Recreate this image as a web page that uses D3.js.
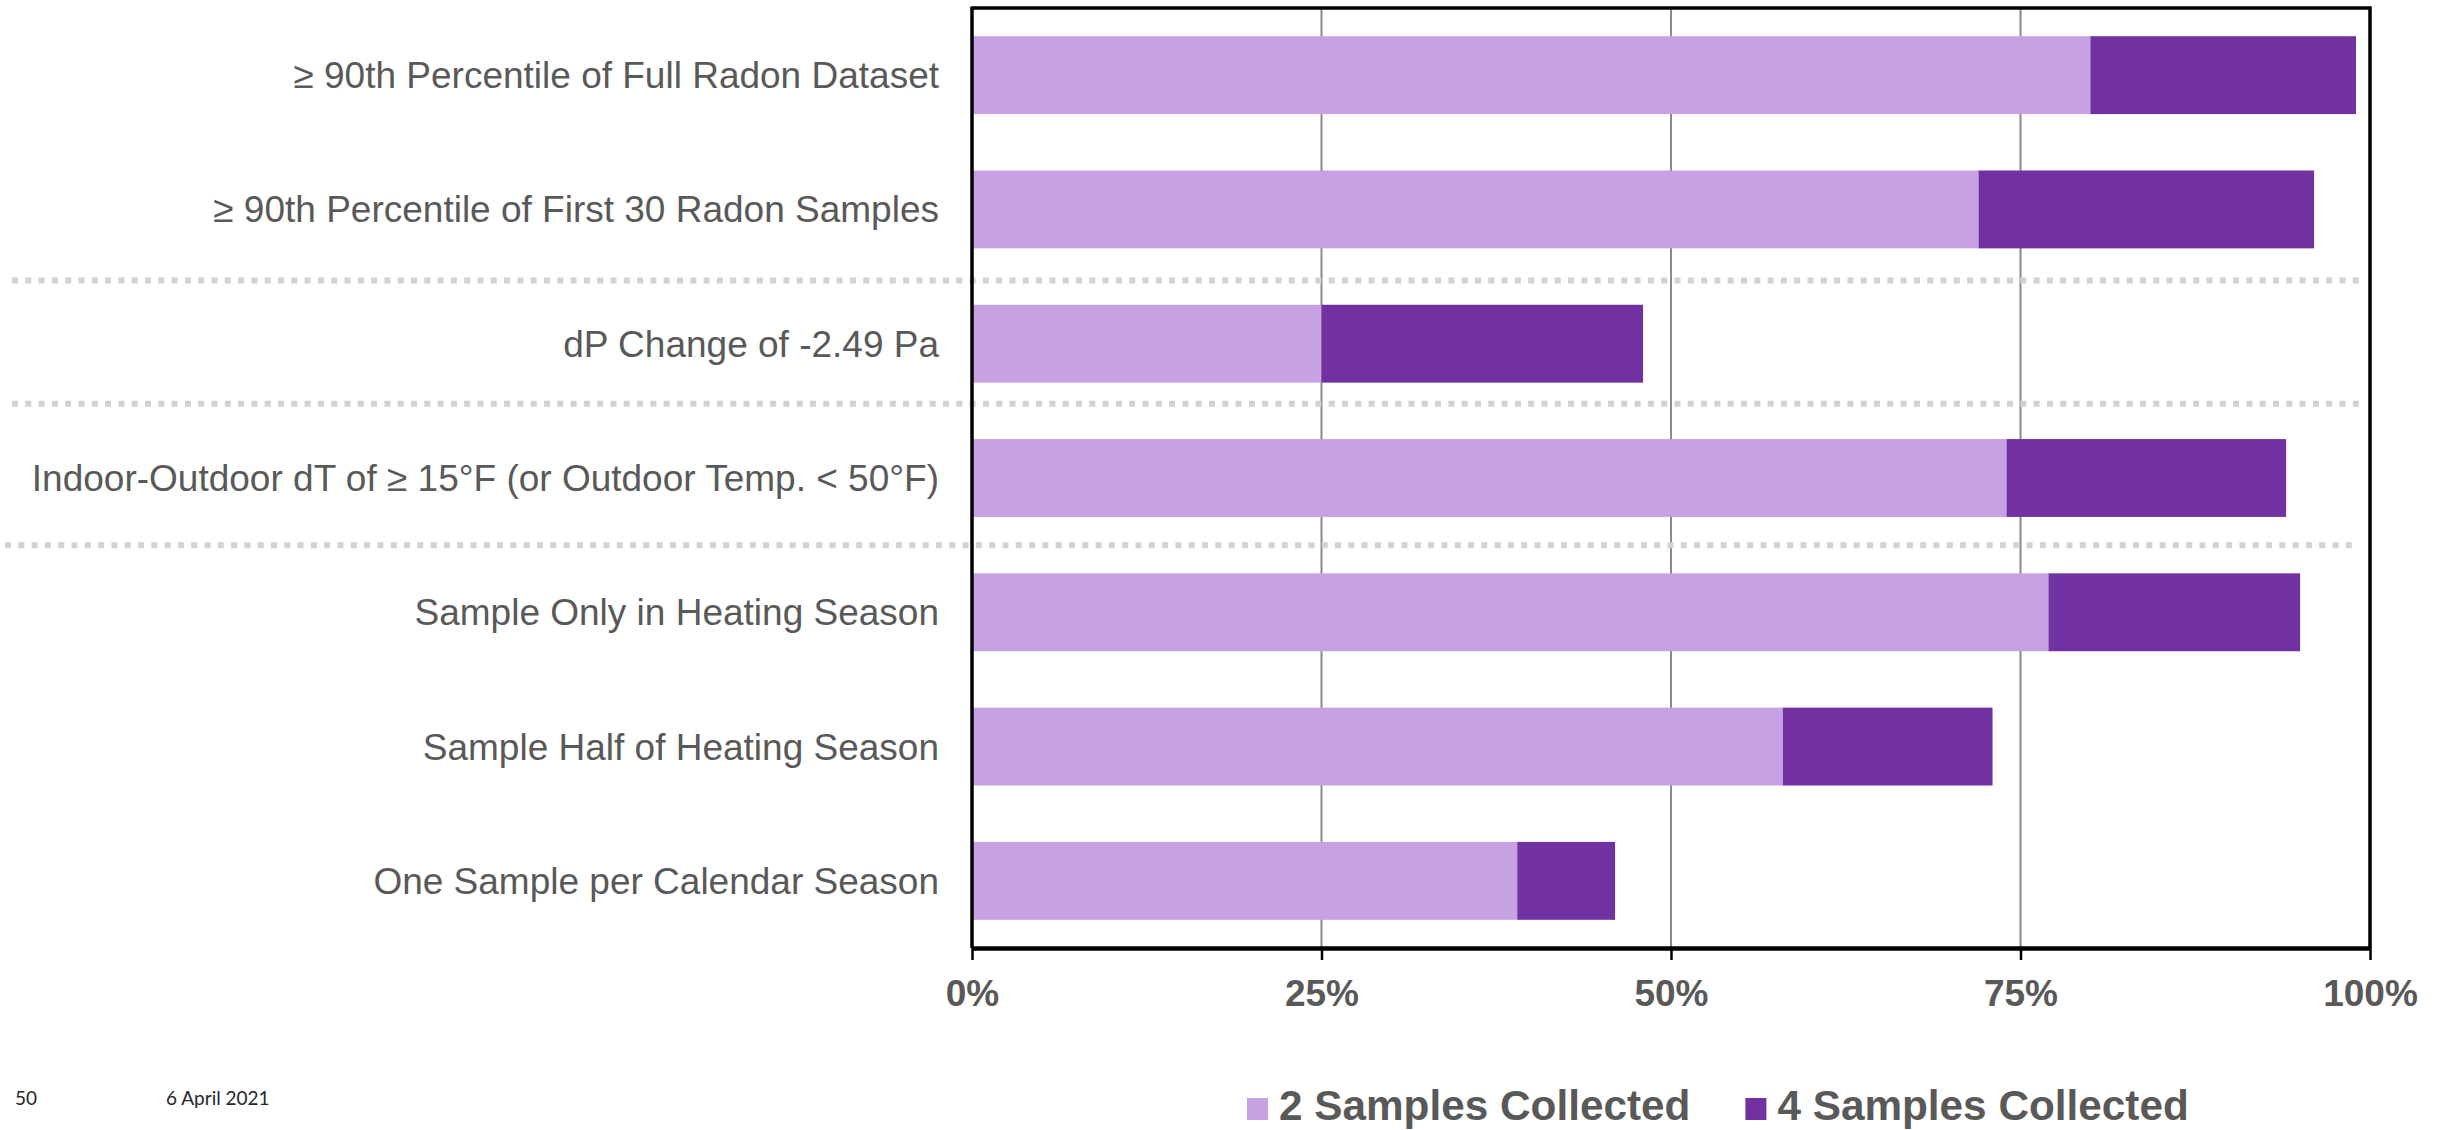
<!DOCTYPE html>
<html>
<head>
<meta charset="utf-8">
<script src="https://cdn.jsdelivr.net/npm/d3@7"></script>
<style>
  html, body { margin: 0; padding: 0; background: #ffffff; }
  svg { display: block; }
</style>
</head>
<body>
<svg id="chart" width="2443" height="1130"></svg>
<script>
// Criteria for triggering a follow-up radon sample (top to bottom)
const categories = [
  "≥ 90th Percentile of Full Radon Dataset",
  "≥ 90th Percentile of First 30 Radon Samples",
  "dP Change of -2.49 Pa",
  "Indoor-Outdoor dT of ≥ 15°F (or Outdoor Temp. < 50°F)",
  "Sample Only in Heating Season",
  "Sample Half of Heating Season",
  "One Sample per Calendar Season"
];

// Share of homes identified (%), stacked: 2 samples, then the extra from 4 samples
const twoSamples  = [80, 72, 25, 74, 77, 58, 39];
const fourSamples = [19, 24, 23, 20, 18, 15, 7];

const seriesNames = ["2 Samples Collected", "4 Samples Collected"];
const tickValues  = [0, 25, 50, 75, 100];
const tickLabels  = ["0%", "25%", "50%", "75%", "100%"];

// Criteria groups are divided by dotted rules after these rows
const separatorsAfter = [1, 2, 3];

const footerPage = "50";
const footerDate = "6 April 2021";

// ---- layout ----
const colors = ["#c8a1e2", "#7131a0"];
const textGray = "#595959";
const plot = { left: 972, right: 2370, top: 8, bottom: 948 };

const svg = d3.select("#chart");

const x = d3.scaleLinear().domain([0, 100]).range([plot.left, plot.right]);
const y = d3.scaleBand().domain(categories)
  .range([plot.top, plot.bottom])
  .paddingInner(0.42).paddingOuter(0.21);

const rows = categories.map((c, i) => ({ cat: c, two: twoSamples[i], four: fourSamples[i] }));
const stacked = d3.stack().keys(["two", "four"])(rows);

// vertical gridlines
svg.append("g")
  .selectAll("line")
  .data(tickValues.filter(v => v > 0 && v < 100))
  .join("line")
  .attr("x1", d => x(d)).attr("x2", d => x(d))
  .attr("y1", plot.top).attr("y2", plot.bottom)
  .attr("stroke", "#8a8a8a")
  .attr("stroke-width", 2);

// stacked bars
svg.append("g")
  .selectAll("g")
  .data(stacked)
  .join("g")
  .attr("fill", (d, i) => colors[i])
  .selectAll("rect")
  .data(d => d)
  .join("rect")
  .attr("x", d => x(d[0]))
  .attr("width", d => x(d[1]) - x(d[0]))
  .attr("y", d => y(d.data.cat))
  .attr("height", y.bandwidth());

// dotted group separators spanning labels and plot
const sepNudge = [4, -7, 0];
const sepExtent = [[12, 2366], [12, 2366], [5, 2358]];
svg.append("g")
  .selectAll("line")
  .data(separatorsAfter)
  .join("line")
  .attr("x1", (d, i) => sepExtent[i][0])
  .attr("x2", (d, i) => sepExtent[i][1])
  .attr("y1", (d, i) => (y(categories[d]) + y.bandwidth() + y(categories[d + 1])) / 2 + sepNudge[i])
  .attr("y2", (d, i) => (y(categories[d]) + y.bandwidth() + y(categories[d + 1])) / 2 + sepNudge[i])
  .attr("stroke", "#d2d2d2")
  .attr("stroke-width", 6)
  .attr("stroke-dasharray", "6 7.3");

// plot frame (top and right)
svg.append("path")
  .attr("d", `M${plot.left},${plot.top}H${plot.right}V${plot.bottom}`)
  .attr("fill", "none")
  .attr("stroke", "#000")
  .attr("stroke-width", 3.5);

// category axis (left)
const yAxis = svg.append("g")
  .attr("transform", `translate(${plot.left},0)`)
  .call(d3.axisLeft(y).tickSize(0).tickPadding(33));
yAxis.select(".domain")
  .attr("d", `M0,${plot.top - 1.5}V${plot.bottom}`)
  .attr("stroke", "#000").attr("stroke-width", 3.5);
yAxis.selectAll("text")
  .attr("fill", textGray)
  .attr("font-family", "'Liberation Sans', Arial, sans-serif")
  .attr("font-size", 37)
  .attr("dy", "0.35em");

// value axis (bottom)
const xAxis = svg.append("g")
  .attr("transform", `translate(0,${plot.bottom})`)
  .call(d3.axisBottom(x)
    .tickValues(tickValues)
    .tickFormat((d, i) => tickLabels[i])
    .tickSizeOuter(0)
    .tickSizeInner(12)
    .tickPadding(20));
xAxis.select(".domain").attr("stroke", "#000").attr("stroke-width", 4.5);
xAxis.selectAll(".tick line").attr("stroke", "#000").attr("stroke-width", 2.5);
xAxis.selectAll("text")
  .attr("fill", textGray)
  .attr("font-family", "'Liberation Sans', Arial, sans-serif")
  .attr("font-weight", "bold")
  .attr("font-size", 37)
  .attr("dy", "0.71em");

// legend
const legend = svg.append("g").attr("transform", "translate(1247,1098)");
let lx = 0;
seriesNames.forEach((name, i) => {
  const g = legend.append("g").attr("transform", `translate(${lx},0)`);
  g.append("rect").attr("width", 21).attr("height", 22).attr("fill", colors[i]);
  const t = g.append("text")
    .attr("x", 32).attr("y", 22)
    .attr("fill", textGray)
    .attr("font-family", "'Liberation Sans', Arial, sans-serif")
    .attr("font-weight", "bold")
    .attr("font-size", 42.3)
    .text(name);
  lx += 32 + t.node().getComputedTextLength() + 55;
});

// slide footer
const footer = svg.append("g")
  .attr("font-family", "Lato, 'Open Sans', sans-serif")
  .attr("font-size", 19)
  .attr("fill", "#262626");
footer.append("text").attr("x", 15).attr("y", 1105).text(footerPage);
footer.append("text").attr("x", 166).attr("y", 1105).text(footerDate);
</script>
</body>
</html>
